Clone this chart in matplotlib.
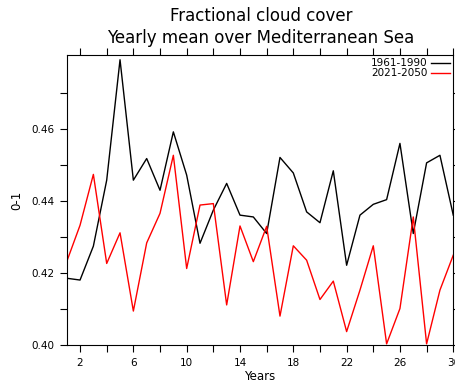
import matplotlib.pyplot as plt
import numpy as np

years = np.arange(1, 31)
cc_1961_1990 = [0.4186, 0.4181, 0.4275, 0.4458, 0.4792, 0.4458, 0.4518, 0.4430, 0.4592, 0.4472,
                0.4283, 0.4375, 0.4449, 0.4361, 0.4356, 0.4310, 0.4521, 0.4478, 0.4370, 0.4340,
                0.4484, 0.4222, 0.4361, 0.4391, 0.4404, 0.4560, 0.4310, 0.4506, 0.4527, 0.4361]
cc_2021_2050 = [0.4232, 0.4333, 0.4474, 0.4227, 0.4312, 0.4095, 0.4284, 0.4366, 0.4527, 0.4213,
                0.4389, 0.4393, 0.4112, 0.4331, 0.4232, 0.4330, 0.4081, 0.4276, 0.4236, 0.4127,
                0.4178, 0.4038, 0.4153, 0.4276, 0.4004, 0.4102, 0.4356, 0.4004, 0.4153, 0.4250]

fig = plt.figure(figsize=(4.56, 3.85), dpi=100)
ax = fig.add_axes([0.1463, 0.1031, 0.8477, 0.7539])

ax.plot(years, cc_1961_1990, color='black', lw=1.0, label='1961-1990')
ax.plot(years, cc_2021_2050, color='red', lw=1.0, label='2021-2050')

ax.set_xlim(1, 30)
ax.set_ylim(0.40, 0.4805)

ax.set_xticks(np.arange(2, 31, 4))
ax.set_xticks(np.arange(4, 31, 4), minor=True)
ax.set_yticks([0.40, 0.42, 0.44, 0.46])
ax.set_yticks([0.41, 0.43, 0.45, 0.47], minor=True)
ax.set_yticklabels(['0.40', '0.42', '0.44', '0.46'])

ax.tick_params(which='both', direction='out', top=True, right=True,
               labeltop=False, labelright=False, length=4.8, width=0.8,
               labelsize=7.5)
ax.tick_params(axis='x', which='major', pad=4.5)
ax.tick_params(axis='y', which='major', pad=4)
for s in ax.spines.values():
    s.set_linewidth(0.8)

ax.set_xlabel('Years', fontsize=8.5, labelpad=1)
ax.set_ylabel('0-1', fontsize=8.5, labelpad=6)

fig.text(0.572, 0.958, 'Fractional cloud cover', ha='center', va='center', fontsize=12)
fig.text(0.572, 0.902, 'Yearly mean over Mediterranean Sea', ha='center', va='center', fontsize=12)

ax.legend(loc='upper right', frameon=False, markerfirst=False, fontsize=7.5,
          labelspacing=0.0, handlelength=1.8, handletextpad=0.4,
          borderaxespad=0.1, borderpad=0.2)

fig.savefig('out.png', dpi=100)
